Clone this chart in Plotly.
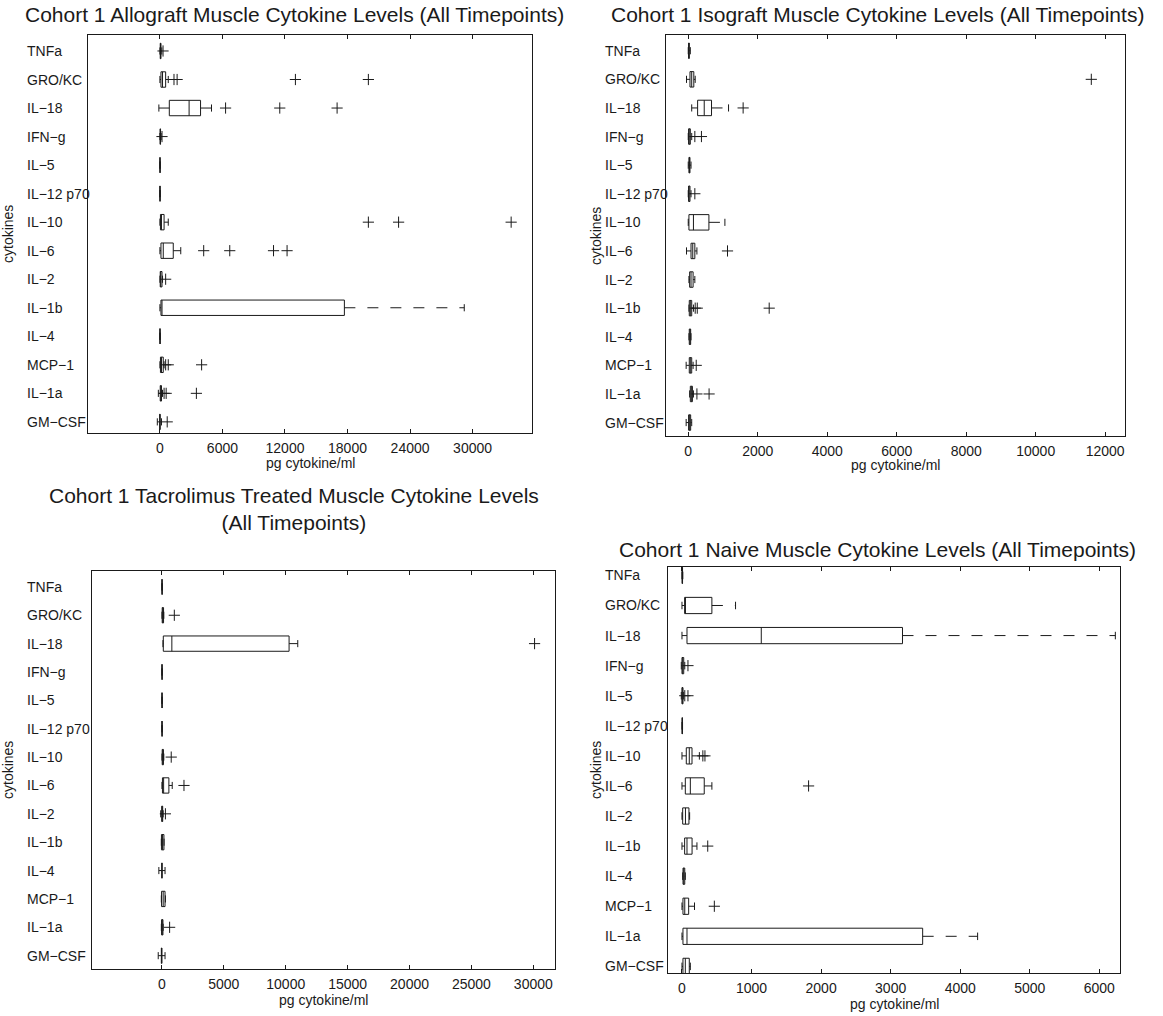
import plotly.graph_objects as go

cytokines = ["TNFa", "GRO/KC", "IL−18", "IFN−g", "IL−5", "IL−12 p70", "IL−10",
             "IL−6", "IL−2", "IL−1b", "IL−4", "MCP−1", "IL−1a", "GM−CSF"]

# ---- Allograft ----
allo_lo  = [0, 0, -100, 0, 0, 0, 0, 0, 0, 0, 0, 0, -150, -250]
allo_q1  = [30, 100, 900, 20, 5, 5, 50, 100, 30, 100, 5, 50, 30, -20]
allo_med = [60, 250, 2800, 40, 10, 8, 150, 320, 80, 200, 10, 150, 80, 0]
allo_q3  = [100, 550, 3900, 60, 15, 12, 400, 1280, 200, 17700, 15, 320, 150, 20]
allo_hi  = [180, 800, 4950, 120, 25, 20, 800, 2000, 250, 29200, 20, 400, 250, 150]
allo_out = [[300], [1350, 1650, 13000, 20000], [6300, 11500, 17000], [200], [], [],
            [20000, 22900, 33700], [4200, 6700, 10900, 12200], [550], [], [],
            [550, 800, 4000], [400, 600, 3500], [700]]

# ---- Isograft ----
iso_lo  = [0, -50, 100, 0, 0, 0, 0, -50, 20, 20, 20, -60, 40, -60]
iso_q1  = [10, 50, 270, 10, 20, 10, 20, 80, 40, 30, 30, 30, 60, 10]
iso_med = [20, 100, 460, 30, 35, 25, 150, 130, 80, 60, 50, 60, 90, 40]
iso_q3  = [30, 160, 670, 60, 50, 50, 595, 190, 140, 100, 70, 100, 120, 70]
iso_hi  = [60, 200, 1160, 100, 80, 80, 1055, 250, 190, 150, 80, 140, 150, 100]
iso_out = [[], [11600], [1580], [190, 380], [], [190], [], [1130], [],
           [200, 260, 2330], [], [230], [250, 600], []]

# ---- Tacrolimus treated ----
tac_lo  = [0, 0, 80, 0, 0, 0, 0, 0, -100, -50, -250, -50, -50, -300]
tac_q1  = [5, 20, 110, 5, 5, 5, 20, 40, -20, -40, 0, -30, -30, -50]
tac_med = [10, 60, 800, 8, 8, 8, 60, 135, 20, 50, 0, 100, 30, -30]
tac_q3  = [15, 130, 10270, 12, 12, 12, 120, 560, 60, 160, 0, 250, 80, 0]
tac_hi  = [20, 150, 10970, 20, 20, 20, 150, 830, 100, 170, 250, 280, 100, 250]
tac_out = [[], [1000], [30100], [], [], [], [750], [1780], [280], [], [], [],
           [620], []]

# ---- Naive ----
nai_lo  = [0, 0, 0, -10, -10, 0, 0, 0, 0, 0, 10, 0, 0, 0]
nai_q1  = [2, 38, 72, 0, 0, 2, 62, 48, 10, 38, 15, 14, 14, 14]
nai_med = [5, 50, 1140, 10, 5, 4, 105, 120, 50, 72, 25, 40, 72, 48]
nai_q3  = [8, 430, 3170, 25, 15, 6, 144, 320, 100, 145, 40, 96, 3460, 105]
nai_hi  = [12, 770, 6230, 40, 20, 8, 250, 430, 110, 215, 48, 180, 4250, 120]
nai_out = [[], [], [], [86], [40, 86], [], [300, 330], [1820], [], [370], [],
           [465], [], []]

titles = ["Cohort 1 Allograft Muscle Cytokine Levels (All Timepoints)",
          "Cohort 1 Isograft Muscle Cytokine Levels (All Timepoints)",
          "Cohort 1 Tacrolimus Treated Muscle Cytokine Levels<br>(All Timepoints)",
          "Cohort 1 Naive Muscle Cytokine Levels (All Timepoints)"]

W, H = 1163, 1016
FONT = "Liberation Sans, Arial, Helvetica, sans-serif"
INK = "#1a1a1a"

def px(x):
    return x / W

def py(y):
    return 1 - y / H

panels = [
    dict(data=(allo_lo, allo_q1, allo_med, allo_q3, allo_hi, allo_out),
         xd=[px(88), px(532)], yd=[py(433), py(35)], xr=[-6900, 35700],
         yr=[14.39, 0.44], tick=list(range(0, 30001, 6000)),
         title=(294, 15), xlab=(463,), ylab=(8, 234), lab_x=25),
    dict(data=(iso_lo, iso_q1, iso_med, iso_q3, iso_hi, iso_out),
         xd=[px(666), px(1125)], yd=[py(436), py(35)], xr=[-640, 12570],
         yr=[14.47, 0.45], tick=list(range(0, 12001, 2000)),
         title=(877, 15), xlab=(465,), ylab=(596, 236), lab_x=603),
    dict(data=(tac_lo, tac_q1, tac_med, tac_q3, tac_hi, tac_out),
         xd=[px(92), px(555)], yd=[py(969), py(571)], xr=[-5650, 31750],
         yr=[14.47, 0.44], tick=list(range(0, 30001, 5000)),
         title=(294, 509), xlab=(1000,), ylab=(8, 770), lab_x=25),
    dict(data=(nai_lo, nai_q1, nai_med, nai_q3, nai_hi, nai_out),
         xd=[px(668), px(1120)], yd=[py(973), py(567)], xr=[-201, 6297],
         yr=[14.22, 0.72], tick=list(range(0, 6001, 1000)),
         title=(877, 549), xlab=(1004,), ylab=(596, 770), lab_x=603),
]

HB = 0.27   # half box height (category units)
HC = 0.125  # half cap height

fig = go.Figure()
annotations = []
layout_axes = {}

for k, p in enumerate(panels, start=1):
    lo, q1, med, q3, hi, outs = p["data"]
    xa = "x" if k == 1 else f"x{k}"
    ya = "y" if k == 1 else f"y{k}"
    sx, sy, wx, wy, ox, oy = [], [], [], [], [], []
    for i, name in enumerate(cytokines):
        c = i + 1
        sx += [q1[i], q3[i], q3[i], q1[i], q1[i], None]
        sy += [c - HB, c - HB, c + HB, c + HB, c - HB, None]
        sx += [med[i], med[i], None]
        sy += [c - HB, c + HB, None]
        sx += [hi[i], hi[i], None, lo[i], lo[i], None]
        sy += [c - HC, c + HC, None, c - HC, c + HC, None]
        wx += [q3[i], hi[i], None, q1[i], lo[i], None]
        wy += [c, c, None, c, c, None]
        for v in outs[i]:
            ox.append(v)
            oy.append(c)
    fig.add_trace(go.Scatter(x=wx, y=wy, mode="lines", xaxis=xa, yaxis=ya,
                             line=dict(color=INK, width=1, dash="11px,12px"),
                             hoverinfo="skip", showlegend=False))
    fig.add_trace(go.Scatter(x=sx, y=sy, mode="lines", xaxis=xa, yaxis=ya,
                             line=dict(color=INK, width=1),
                             hoverinfo="skip", showlegend=False))
    fig.add_trace(go.Scatter(x=ox, y=oy, mode="markers", xaxis=xa, yaxis=ya,
                             marker=dict(symbol="cross-thin", size=8,
                                         line=dict(color=INK, width=1)),
                             showlegend=False))

    xkey = "xaxis" if k == 1 else f"xaxis{k}"
    ykey = "yaxis" if k == 1 else f"yaxis{k}"
    layout_axes[xkey] = dict(domain=p["xd"], anchor=ya, range=p["xr"],
                             tickmode="array", tickvals=p["tick"],
                             ticktext=[str(t) for t in p["tick"]],
                             ticks="inside", ticklen=4, tickcolor=INK,
                             showline=True, linecolor=INK, linewidth=1,
                             mirror="ticks", showgrid=False, zeroline=False,
                             tickfont=dict(size=14, color=INK, family=FONT),
                             ticklabelstandoff=2)
    layout_axes[ykey] = dict(domain=p["yd"], anchor=xa, range=p["yr"],
                             showticklabels=False, ticks="",
                             showline=True, linecolor=INK, linewidth=1,
                             mirror=True, showgrid=False, zeroline=False)
    for i, name in enumerate(cytokines):
        annotations.append(dict(text=name, xref="paper", yref=ya,
                                x=px(p["lab_x"]), y=i + 1, xanchor="left",
                                yanchor="middle", showarrow=False,
                                font=dict(size=14, color=INK, family=FONT)))
    annotations.append(dict(text=titles[k - 1], xref="paper", yref="paper",
                            x=px(p["title"][0]), y=py(p["title"][1]),
                            xanchor="center", yanchor="middle", showarrow=False,
                            font=dict(size=21, color=INK, family=FONT)))
    annotations.append(dict(text="pg cytokine/ml", xref=f"{xa} domain",
                            yref="paper", x=0.5, y=py(p["xlab"][0]),
                            xanchor="center", yanchor="middle", showarrow=False,
                            font=dict(size=14, color=INK, family=FONT)))
    annotations.append(dict(text="cytokines", xref="paper", yref="paper",
                            x=px(p["ylab"][0]), y=py(p["ylab"][1]),
                            xanchor="center", yanchor="middle", textangle=-90,
                            showarrow=False,
                            font=dict(size=14, color=INK, family=FONT)))

fig.update_layout(width=W, height=H, margin=dict(l=0, r=0, t=0, b=0),
                  paper_bgcolor="white", plot_bgcolor="white",
                  showlegend=False, annotations=annotations,
                  font=dict(family=FONT, color=INK), **layout_axes)

fig.write_html("out.html")
